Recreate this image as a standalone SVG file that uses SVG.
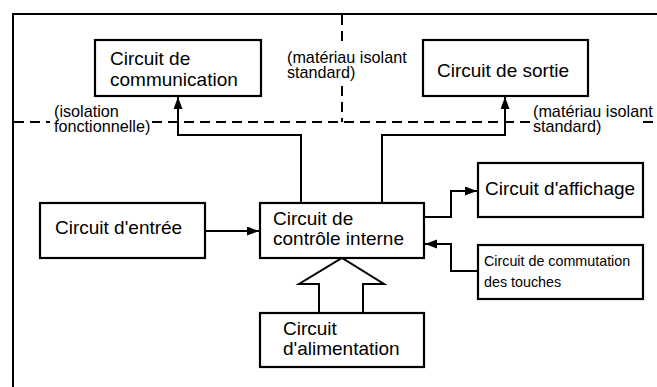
<svg xmlns="http://www.w3.org/2000/svg" width="657" height="387" viewBox="0 0 657 387">
<style>
.box{fill:#fff;stroke:#000;stroke-width:2.2}
.t{font-family:"Liberation Sans",Arial,sans-serif;font-size:19px;fill:#000}
.s{font-family:"Liberation Sans",Arial,sans-serif;font-size:14.3px;fill:#000}
.a{font-family:"Liberation Sans",Arial,sans-serif;font-size:16.2px;fill:#000}
.ln{fill:none;stroke:#000;stroke-width:2}
.dash{fill:none;stroke:#000;stroke-width:2;stroke-dasharray:10,6}
</style>
<defs>
<marker id="ah" markerUnits="userSpaceOnUse" markerWidth="13" markerHeight="10" refX="12" refY="4.5" orient="auto">
<path d="M0,0 L12,4.5 L0,9 z" fill="#000"/>
</marker>
</defs>
<g id="frame">
<path class="ln" d="M13,387 L13,14 L657,14"/>
<path class="dash" d="M14,122 L50,122"/>
<path class="dash" d="M152,122 L530,122"/>
<path class="dash" d="M643,122 L657,122"/>
<path class="dash" d="M342,15 L342,46"/>
<path class="dash" d="M342,86 L342,122"/>
</g>
<g id="annotations">
<text class="a" x="54" y="117">(isolation</text>
<text class="a" x="54" y="132">fonctionnelle)</text>
<text class="a" x="287" y="63">(matériau isolant</text>
<text class="a" x="287" y="78">standard)</text>
<text class="a" x="533" y="117">(matériau isolant</text>
<text class="a" x="533" y="132">standard)</text>
</g>
<g id="connectors">
<path class="ln" d="M301,203 L301,135 L178,135 L178,97" marker-end="url(#ah)"/>
<path class="ln" d="M382,203 L382,135 L505,135 L505,97" marker-end="url(#ah)"/>
<path class="ln" d="M205,231 L259,231" marker-end="url(#ah)"/>
<path class="ln" d="M424,217 L451,217 L451,191 L477,191" marker-end="url(#ah)"/>
<path class="ln" d="M478,271 L451,271 L451,244 L425,244" marker-end="url(#ah)"/>
<polygon points="319,313 319,284 299,284 342,258 384,284 363,284 363,313" fill="#fff" stroke="#000" stroke-width="2"/>
</g>
<g id="communication">
<rect class="box" x="95" y="40" width="166" height="56"/>
<text class="t" x="110" y="65">Circuit de</text>
<text class="t" x="110" y="86">communication</text>
</g>
<g id="sortie">
<rect class="box" x="423" y="40" width="165" height="56"/>
<text class="t" x="437" y="77">Circuit de sortie</text>
</g>
<g id="entree">
<rect class="box" x="40" y="203" width="165" height="55"/>
<text class="t" x="55" y="234">Circuit d'entrée</text>
</g>
<g id="controle">
<rect class="box" x="260" y="203" width="164" height="55"/>
<text class="t" x="273" y="225">Circuit de</text>
<text class="t" x="273" y="245">contrôle interne</text>
</g>
<g id="alimentation">
<rect class="box" x="260" y="313" width="164" height="54"/>
<text class="t" x="283" y="335">Circuit</text>
<text class="t" x="283" y="355">d'alimentation</text>
</g>
<g id="affichage">
<rect class="box" x="478" y="163" width="165" height="54"/>
<text class="t" x="485" y="195">Circuit d'affichage</text>
</g>
<g id="touches">
<rect class="box" x="478" y="245" width="165" height="54"/>
<text class="s" x="484" y="266">Circuit de commutation</text>
<text class="s" x="484" y="287">des touches</text>
</g>
</svg>
